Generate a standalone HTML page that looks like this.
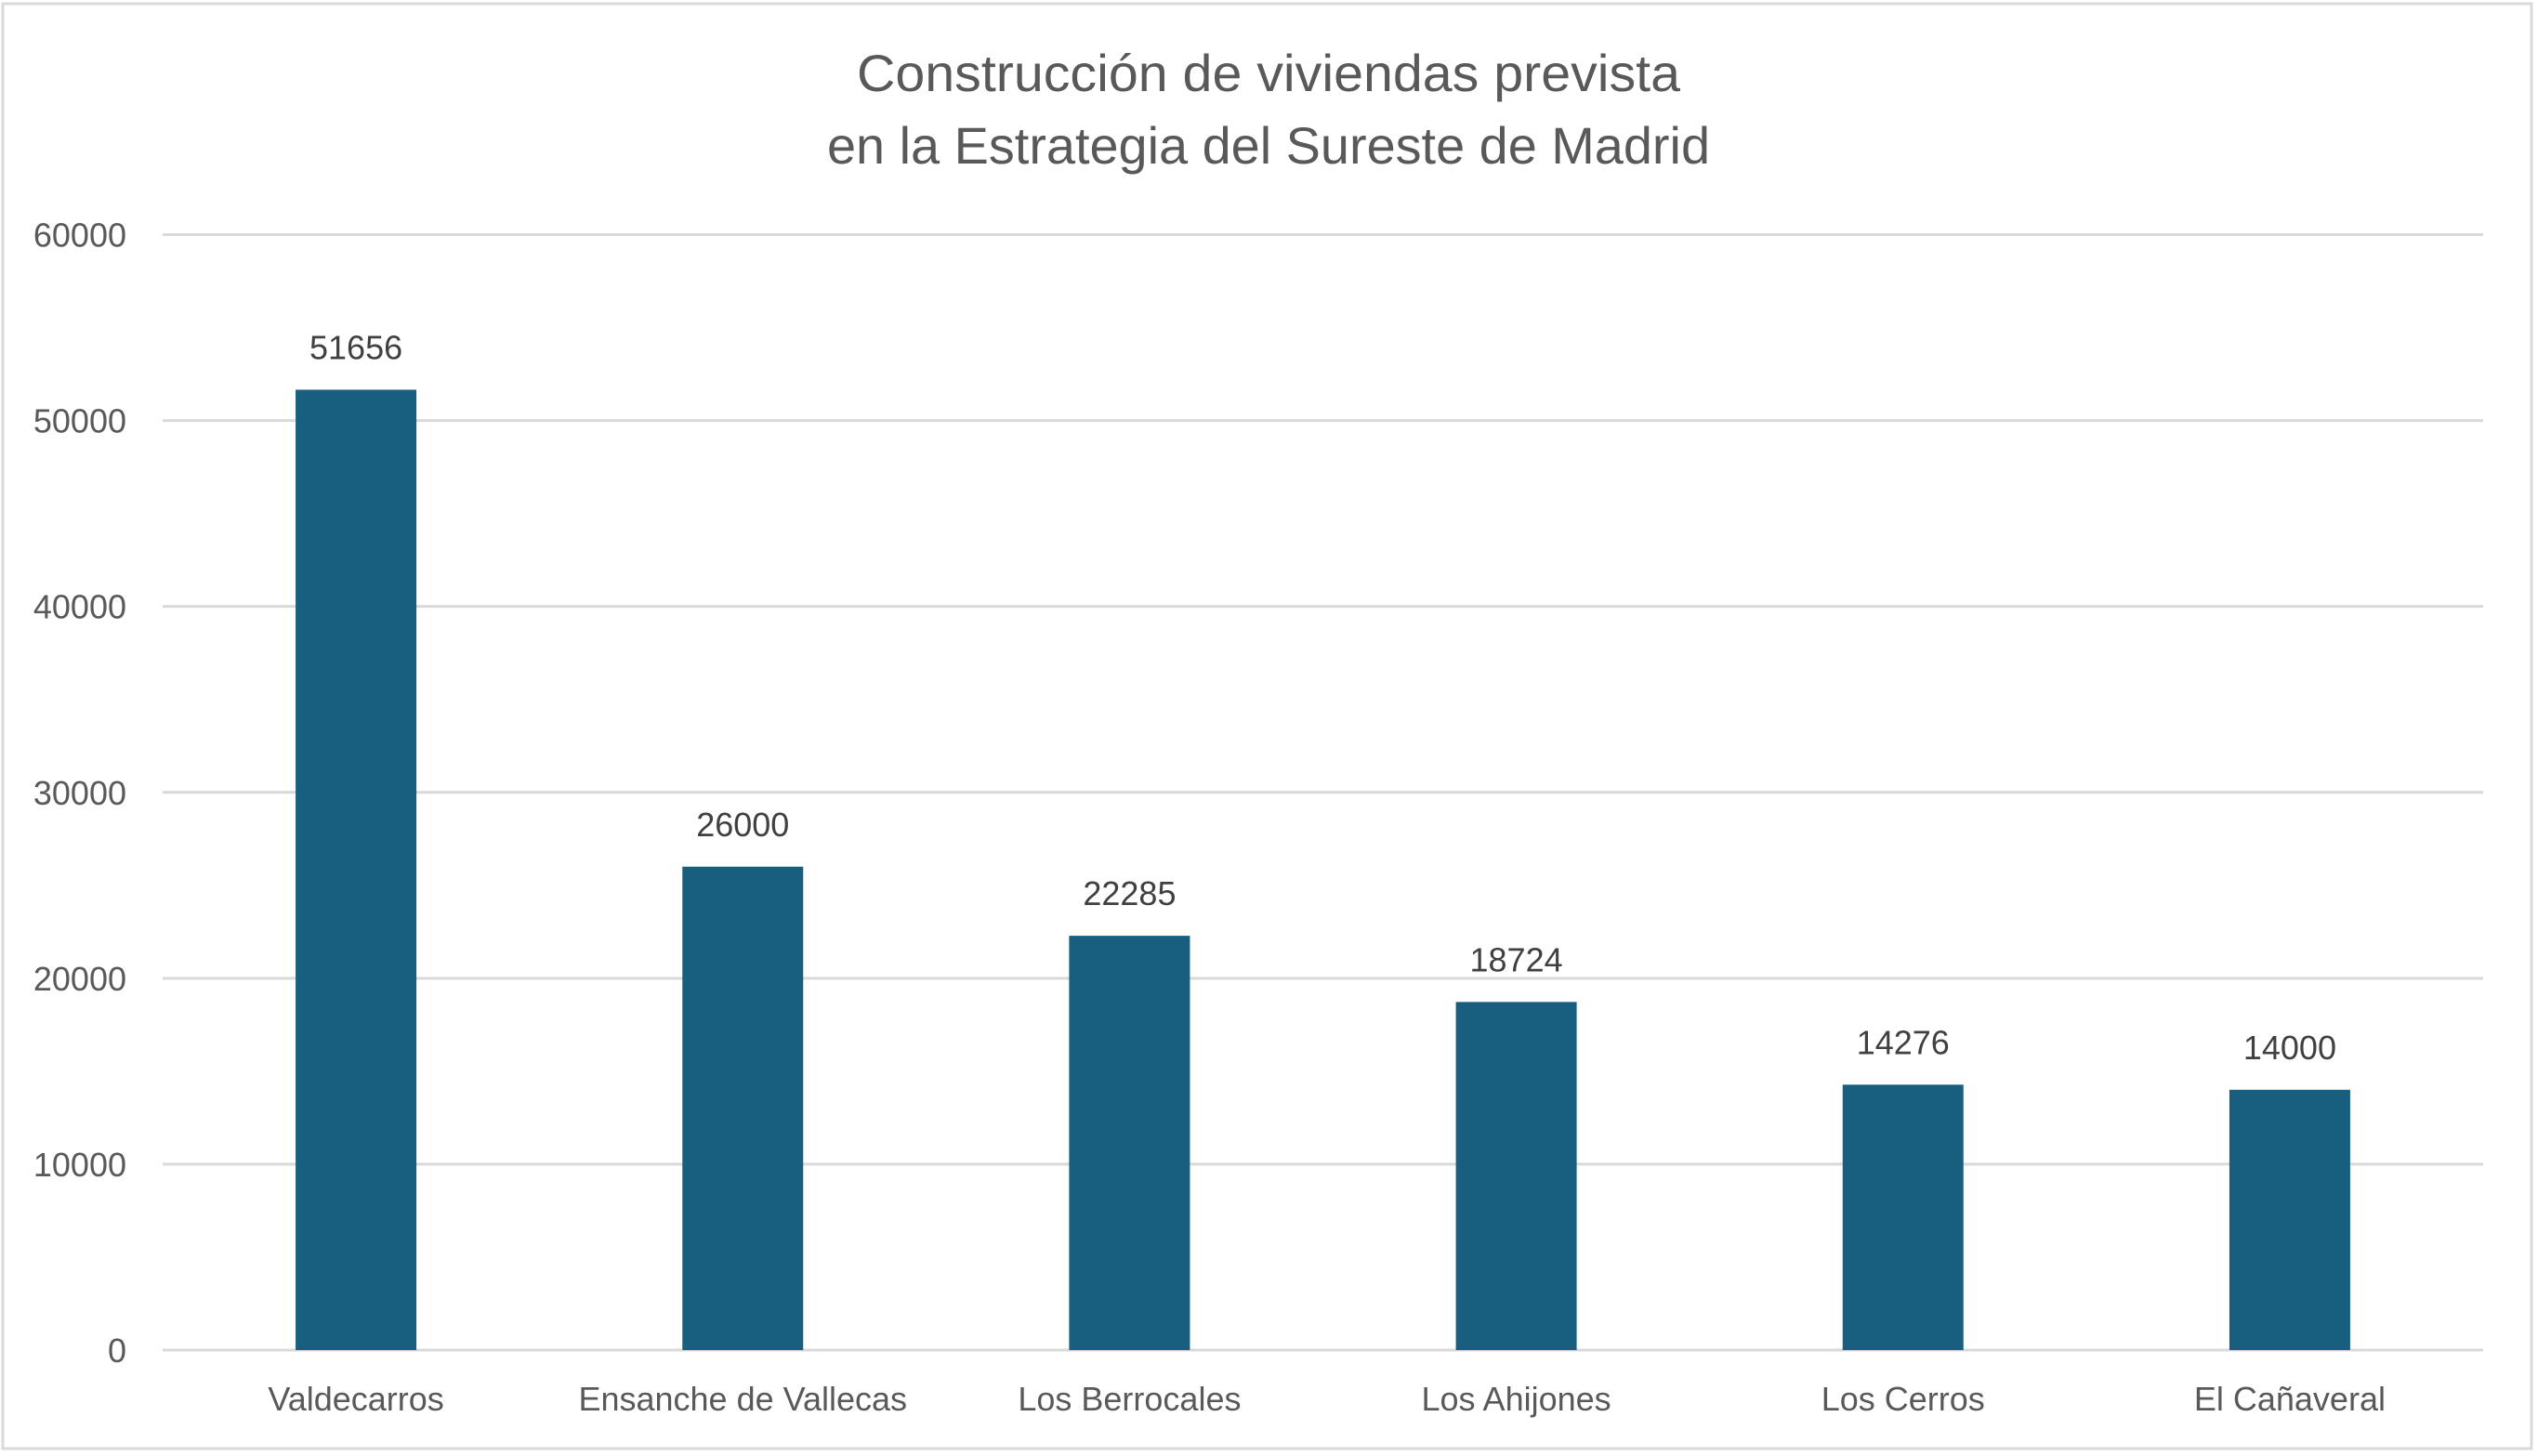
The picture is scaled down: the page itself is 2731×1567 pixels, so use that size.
<!DOCTYPE html>
<html><head><meta charset="utf-8"><style>
html,body{margin:0;padding:0;background:#fff;}
svg{display:block;font-family:"Liberation Sans",sans-serif;}
</style></head><body>
<svg id="chart" width="2731" height="1567" viewBox="0 0 2731 1567" xmlns="http://www.w3.org/2000/svg">
<rect x="3" y="4" width="2721" height="1555" fill="#fff" stroke="#d9d9d9" stroke-width="3"/>
<text x="1365" y="98" text-anchor="middle" font-size="56" fill="#595959" textLength="886" lengthAdjust="spacingAndGlyphs">Construcción de viviendas prevista</text>
<text x="1365" y="176" text-anchor="middle" font-size="56" fill="#595959" textLength="950" lengthAdjust="spacingAndGlyphs">en la Estrategia del Sureste de Madrid</text>
<g id="grid"></g><g id="bars"></g><g id="labels"></g>
</svg>
<script>
const categories = ["Valdecarros","Ensanche de Vallecas","Los Berrocales","Los Ahijones","Los Cerros","El Cañaveral"];
const values = [51656, 26000, 22285, 18724, 14276, 14000];
const yTicks = [0, 10000, 20000, 30000, 40000, 50000, 60000];
const yMax = 60000;
const plotLeft = 175, plotRight = 2672, plotTop = 252.5, plotBottom = 1453;
const ns = "http://www.w3.org/2000/svg";
const yScale = v => plotBottom - (v / yMax) * (plotBottom - plotTop);
const band = (plotRight - plotLeft) / categories.length;
const xCenter = i => plotLeft + band * (i + 0.5);
const barW = 130;
function mk(tag, attrs, parent){const e=document.createElementNS(ns,tag);for(const k in attrs)e.setAttribute(k,attrs[k]);parent.appendChild(e);return e;}
const grid=document.getElementById('grid'), bars=document.getElementById('bars'), labels=document.getElementById('labels');
yTicks.forEach(t=>{
  const y=yScale(t);
  const l=mk('line',{x1:plotLeft,x2:plotRight,y1:y,y2:y,stroke:'#d9d9d9','stroke-width':3},grid);
  
  
  const tx=mk('text',{x:136,y:y+13,'text-anchor':'end','font-size':36,fill:'#595959'},labels);
  tx.textContent=String(t);
  
  
});
values.forEach((v,i)=>{
  const cx=xCenter(i), y=yScale(v);
  const r=mk('rect',{x:cx-barW/2,y:y,width:barW,height:plotBottom-y,fill:'#175e7f'},bars);
  
  
  const dl=mk('text',{x:cx,y:y-33,'text-anchor':'middle','font-size':36,fill:'#404040'},labels);
  dl.textContent=String(v);
  
  
  const cl=mk('text',{x:cx,y:1518,'text-anchor':'middle','font-size':36,fill:'#595959'},labels);
  cl.textContent=categories[i];
  
  
});
</script>
</body></html>
